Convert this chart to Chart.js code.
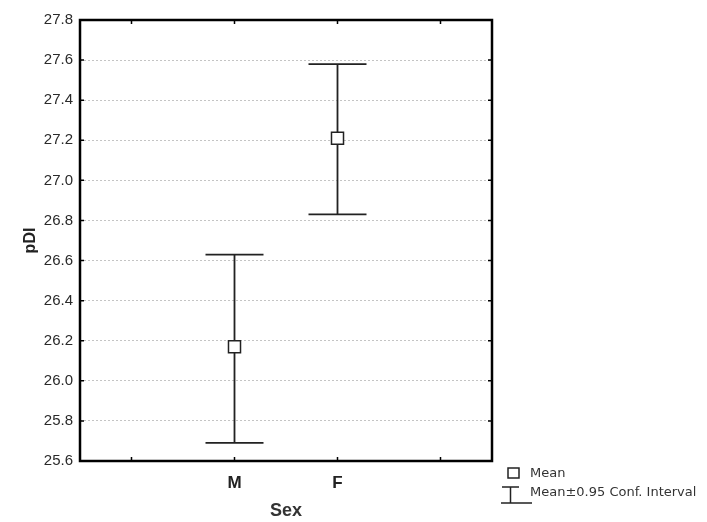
<!DOCTYPE html>
<html lang="en">
<head>
<meta charset="UTF-8">
<title>pDI by Sex</title>
<script src="https://cdn.jsdelivr.net/npm/chart.js"></script>
<style>
  body { margin: 0; background: #fff; }
  #wrap { width: 707px; height: 522px; }
</style>
</head>
<body>
<div id="wrap"><canvas id="chart"></canvas></div>
<script>
// data
const xLabels = ['', 'M', 'F', ''];
const categories = ['M', 'F'];
const means = [26.17, 27.21];
const lowerCI = [25.69, 26.83];
const upperCI = [26.63, 27.58];
const yTicks = { min: 25.6, max: 27.8, step: 0.2 };

const ink = '#222';
const fontName = '"Liberation Sans", Arial, sans-serif';

// error bars under the markers
const errorBars = {
  id: 'errorBars',
  beforeDatasetsDraw(chart) {
    const { ctx, scales: { x, y } } = chart;
    ctx.save();
    ctx.strokeStyle = ink;
    ctx.lineWidth = 1.8;
    categories.forEach((c, i) => {
      const px = x.getPixelForValue(xLabels.indexOf(c));
      const top = y.getPixelForValue(upperCI[i]);
      const bot = y.getPixelForValue(lowerCI[i]);
      ctx.beginPath();
      ctx.moveTo(px, top); ctx.lineTo(px, bot);
      ctx.moveTo(px - 29, top); ctx.lineTo(px + 29, top);
      ctx.moveTo(px - 29, bot); ctx.lineTo(px + 29, bot);
      ctx.stroke();
    });
    ctx.restore();
  }
};

// frame, inward ticks and legend
const frame = {
  id: 'frame',
  afterDraw(chart) {
    const { ctx, chartArea: a, scales: { x, y } } = chart;
    ctx.save();
    ctx.strokeStyle = '#000';
    ctx.lineWidth = 1.5;
    ctx.beginPath();
    x.ticks.forEach((t, i) => {
      const px = x.getPixelForTick(i);
      ctx.moveTo(px, a.bottom); ctx.lineTo(px, a.bottom - 4);
      ctx.moveTo(px, a.top); ctx.lineTo(px, a.top + 4);
    });
    y.ticks.forEach((t, i) => {
      const py = y.getPixelForTick(i);
      ctx.moveTo(a.left, py); ctx.lineTo(a.left + 4, py);
      ctx.moveTo(a.right, py); ctx.lineTo(a.right - 4, py);
    });
    ctx.stroke();
    ctx.lineWidth = 2.5;
    ctx.strokeRect(a.left, a.top, a.right - a.left, a.bottom - a.top);

    // legend
    ctx.lineWidth = 1.5;
    ctx.strokeStyle = ink;
    ctx.fillStyle = '#fff';
    ctx.fillRect(508, 468, 11, 10);
    ctx.strokeRect(508, 468, 11, 10);
    ctx.beginPath();
    ctx.moveTo(502, 487); ctx.lineTo(519, 487);
    ctx.moveTo(510.5, 487); ctx.lineTo(510.5, 503);
    ctx.moveTo(501, 503); ctx.lineTo(532, 503);
    ctx.stroke();
    ctx.fillStyle = '#333';
    ctx.font = '13px "DejaVu Sans", sans-serif';
    ctx.textBaseline = 'middle';
    ctx.fillText('Mean', 530, 474);
    ctx.fillText('Mean\u00b10.95 Conf. Interval', 530, 493);
    ctx.restore();
  }
};

new Chart(document.getElementById('chart'), {
  type: 'line',
  data: {
    labels: xLabels,
    datasets: [{
      data: categories.map((c, i) => ({ x: c, y: means[i] })),
      showLine: false,
      pointStyle: 'rect',
      pointRadius: 8.5,
      pointHoverRadius: 8.5,
      pointBackgroundColor: '#fff',
      pointBorderColor: ink,
      pointBorderWidth: 1.5
    }]
  },
  options: {
    responsive: true,
    maintainAspectRatio: false,
    animation: false,
    layout: { padding: { left: 0, top: 20, right: 215, bottom: 0 } },
    plugins: { legend: { display: false }, tooltip: { enabled: false } },
    scales: {
      x: {
        type: 'category',
        offset: true,
        grid: { display: false, drawTicks: false },
        border: { display: false },
        afterFit(s) { s.height = 61; },
        ticks: {
          padding: 12,
          color: ink,
          font: { family: fontName, size: 17, weight: 'bold' }
        },
        title: {
          display: true,
          text: 'Sex',
          color: '#333',
          padding: { top: 0, bottom: 0 },
          font: { family: fontName, size: 18, weight: 'bold' }
        }
      },
      y: {
        min: yTicks.min,
        max: yTicks.max,
        afterFit(s) { s.width = 80; },
        grid: { color: '#c4c4c4', lineWidth: 1, drawTicks: false },
        border: { display: false, dash: [2, 2] },
        ticks: {
          stepSize: yTicks.step,
          padding: 7,
          color: '#2a2a2a',
          font: { family: fontName, size: 15 },
          callback: v => Number(v).toFixed(1)
        },
        title: {
          display: true,
          text: 'pDI',
          color: ink,
          padding: { top: 21, bottom: 0 },
          font: { family: fontName, size: 16, weight: 'bold' }
        }
      }
    }
  },
  plugins: [errorBars, frame]
});
</script>
</body>
</html>
